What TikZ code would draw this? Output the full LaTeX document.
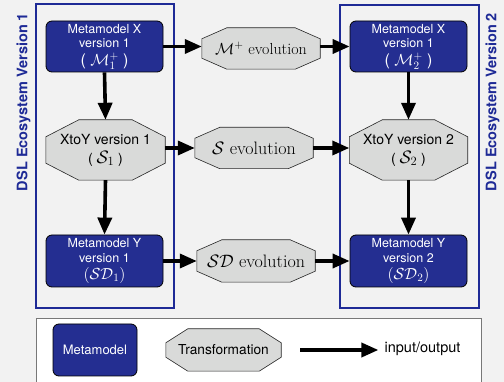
\RequirePackage{fix-cm}
\documentclass[tikz,border=0pt]{standalone}
\usepackage{fontspec}
\setsansfont{TeX Gyre Heros}
\usetikzlibrary{arrows.meta,calc,backgrounds}

\definecolor{dslblue}{RGB}{30,42,150}
\definecolor{mmfill}{RGB}{36,46,145}
\definecolor{octfill}{RGB}{217,218,217}
\definecolor{bgcol}{RGB}{242,242,242}
\definecolor{legborder}{RGB}{120,120,120}

\tikzset{
  mm/.style={draw=black, line width=0.8pt, fill=mmfill, rounded corners=6pt,
    text=white, align=center, inner sep=0pt,
    font=\sffamily\fontsize{12.5}{14.5}\selectfont},
  xf/.style={inner sep=0pt, align=center},
  octoline/.style={draw=black!85, line width=0.6pt, fill=octfill},
  conn/.style={line width=3.6pt, -{Triangle[length=17pt,width=14pt]}},
  eco/.style={draw=dslblue, line width=2.5pt, inner sep=0pt},
  ecolabel/.style={text=dslblue, rotate=90, inner sep=0pt,
    font=\sffamily\bfseries\fontsize{14.5}{16}\selectfont},
}

\newcommand{\octa}[3]{%
  \path[octoline]
    ($(#1.north west)+(#2pt,0pt)$) -- ($(#1.north east)+(-#2pt,0pt)$) --
    ($(#1.north east)+(0pt,-#3pt)$) -- ($(#1.south east)+(0pt,#3pt)$) --
    ($(#1.south east)+(-#2pt,0pt)$) -- ($(#1.south west)+(#2pt,0pt)$) --
    ($(#1.south west)+(0pt,#3pt)$) -- ($(#1.north west)+(0pt,-#3pt)$) -- cycle;}
\newcommand{\mathline}[1]{{\fontsize{16}{16}\selectfont #1}}

\begin{document}
\begin{tikzpicture}[x=1pt,y=-1pt]
\useasboundingbox (0,0) rectangle (504,382);

\begin{scope}[on background layer]
  \fill[bgcol] (0,0) rectangle (504,382);
  \node[draw=legborder, fill=white, line width=0.8pt, minimum width=445pt,
        minimum height=80pt, inner sep=0pt] (legend) at (258.5,358) {};
\end{scope}

% ecosystem containers
\node[eco, minimum width=138pt, minimum height=304pt] (eco1) at (105,156) {};
\node[eco, minimum width=139pt, minimum height=303pt] (eco2) at (409.5,156.5) {};
\node[ecolabel] (eco1lab) at (23.5,102) {DSL Ecosystem Version 1};
\node[ecolabel] (eco2lab) at (492.5,102) {DSL Ecosystem Version 2};

% metamodels
\node[mm, minimum width=117pt, minimum height=51pt] (mx1) at (104.5,46.5)
  {Metamodel X\\version 1\\[3pt]\mathline{( $\mathcal{M}_1^+$ )}};
\node[mm, minimum width=117pt, minimum height=52pt] (my1) at (104.5,261)
  {Metamodel Y\\version 1\\[3pt]\mathline{$(\mathcal{SD}_1)$}};
\node[mm, minimum width=117pt, minimum height=51pt] (mx2) at (408.5,46.5)
  {Metamodel X\\version 1\\[3pt]\mathline{( $\mathcal{M}_2^+$ )}};
\node[mm, minimum width=117pt, minimum height=52pt] (my2) at (408.5,261)
  {Metamodel Y\\version 2\\[3pt]\mathline{$(\mathcal{SD}_2)$}};

% transformations
\node[xf, minimum width=119pt, minimum height=60pt,
      font=\sffamily\fontsize{14}{19}\selectfont] (t1) at (105.5,150)
  {XtoY version 1\\( {\fontsize{18}{19}\selectfont$\mathcal{S}_1$} )};
\node[xf, minimum width=118pt, minimum height=60pt,
      font=\sffamily\fontsize{14}{19}\selectfont] (t2) at (408.5,150)
  {XtoY version 2\\( {\fontsize{18}{19}\selectfont$\mathcal{S}_2$} )};

% evolutions
\node[xf, minimum width=118pt, minimum height=41pt,
      font=\fontsize{16}{18}\selectfont] (mevo) at (261,48.5)
  {$\mathcal{M}^+$ evolution};
\node[xf, minimum width=118pt, minimum height=41pt,
      font=\fontsize{18}{20}\selectfont] (sevo) at (254,148)
  {$\mathcal{S}$ evolution};
\node[xf, minimum width=118pt, minimum height=42pt,
      font=\fontsize{18}{20}\selectfont] (sdevo) at (256,261)
  {$\mathcal{SD}$ evolution};

% legend
\node[mm, minimum width=84pt, minimum height=52pt,
      font=\sffamily\fontsize{13}{15}\selectfont] (legmm) at (95,350) {Metamodel};
\node[xf, minimum width=115pt, minimum height=42pt,
      font=\sffamily\fontsize{13.7}{16}\selectfont] (legxf) at (223.5,350) {Transformation};
\node[inner sep=0pt, font=\sffamily\fontsize{14.5}{16}\selectfont] (io) at (422.5,349) {input/output};
\coordinate (legarr) at (300,350);

\begin{scope}[on background layer]
  \octa{t1}{33}{17}
  \octa{t2}{33}{17}
  \octa{mevo}{25}{11}
  \octa{sevo}{25}{11}
  \octa{sdevo}{25}{11}
  \octa{legxf}{22}{14}
\end{scope}

% connectors
\draw[conn] (mx1.south) -- (t1.north);
\draw[conn] (t1.south) -- (my1.north);
\draw[conn] (mx2.south) -- (t2.north);
\draw[conn] (t2.south) -- (my2.north);
\draw[conn] (mx1.east) -- (mx1.east -| mevo.west);
\draw[conn] (mevo.east |- mx1.east) -- (mx2.west);
\draw[conn] (t1.east |- sevo.west) -- (sevo.west);
\draw[conn] (sevo.east) -- (sevo.east -| t2.west);
\draw[conn] (my1.east) -- (my1.east -| sdevo.west);
\draw[conn] (sdevo.east |- my2.west) -- (my2.west);
\draw[conn] (legarr) -- ([xshift=-6pt]io.west |- legarr);
\end{tikzpicture}
\end{document}
